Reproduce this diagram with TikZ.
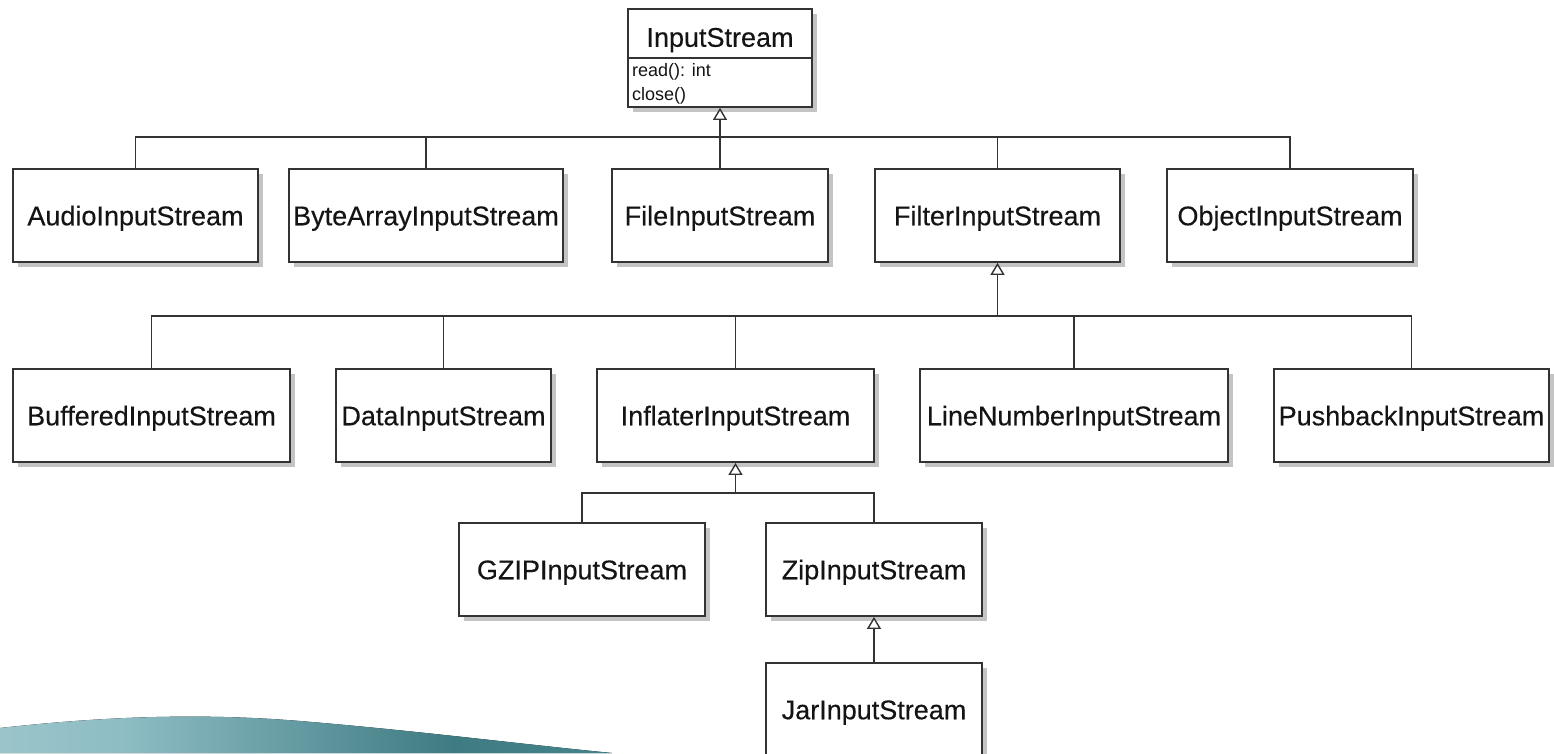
\documentclass[tikz,border=0pt]{standalone}
\usepackage{fontspec}
\newfontfamily\umlfont[FakeBold=0.3]{Liberation Sans}
\newfontfamily\umlsmall{Liberation Sans}
\usetikzlibrary{arrows.meta,shadows}
\definecolor{linec}{HTML}{333333}
\definecolor{shadowc}{HTML}{C4C4C4}
\definecolor{txtc}{HTML}{141414}
\definecolor{tealA}{HTML}{B8D6DB}
\definecolor{tealB}{HTML}{8EBDC4}
\definecolor{tealC}{HTML}{3F7B82}
\definecolor{tealD}{HTML}{4F979F}
\pgfdeclarehorizontalshading{swoosh}{100bp}{color(0bp)=(tealA); color(35bp)=(tealB); color(62bp)=(tealC); color(100bp)=(tealD)}
\tikzset{
  cls/.style={draw=linec, line width=1.8pt, fill=white, inner sep=0pt,
    minimum height=93pt, text height=19.5pt, text depth=0pt,
    font=\umlfont\fontsize{27}{32}\selectfont, text=txtc,
    drop shadow={shadow xshift=5pt, shadow yshift=-5pt, fill=shadowc, opacity=1}},
  conn/.style={draw=linec, line width=1.8pt},
  inh/.style={conn, -{Triangle[length=12pt,width=14pt,fill=white,line width=1.4pt]}},
  meth/.style={inner sep=0pt, anchor=west, font=\umlsmall\fontsize{18}{21}\selectfont, text=txtc}
}
\begin{document}
\begin{tikzpicture}[x=1pt,y=-1pt]
\useasboundingbox (0,0) rectangle (1554,753);
% swoosh
\fill[shading=swoosh] (0,753) -- (0,728) .. controls (90,718) and (190,712) .. (300,721) .. controls (420,731) and (520,744) .. (612,753) -- cycle;

% InputStream
\node[cls, minimum width=184pt, minimum height=98pt] (is) at (720,58) {};
\node[inner sep=0pt, text height=19.5pt, text depth=0pt, font=\umlfont\fontsize{27}{32}\selectfont, text=txtc] (ist) at (720,37) {InputStream};
\draw[draw=linec, line width=1.5pt] (is.west |- 0,58) -- (is.east |- 0,58);
\node[meth] (m1) at (632,72) {read(): int};
\node[meth] (m2) at (632,96) {close()};

% row 1
\node[cls, minimum width=245pt] (audio) at (135.5,215.5) {AudioInputStream};
\node[cls, minimum width=274pt] (byte) at (426,215.5) {ByteArrayInputStream};
\node[cls, minimum width=216pt] (file) at (720,215.5) {FileInputStream};
\node[cls, minimum width=245pt] (filter) at (997.5,215.5) {FilterInputStream};
\node[cls, minimum width=246pt] (object) at (1290,215.5) {ObjectInputStream};

% row 2
\node[cls, minimum width=277pt] (buffered) at (151.5,415.5) {BufferedInputStream};
\node[cls, minimum width=215pt] (data) at (443.5,415.5) {DataInputStream};
\node[cls, minimum width=277pt] (inflater) at (735.5,415.5) {InflaterInputStream};
\node[cls, minimum width=308pt] (linenum) at (1074,415.5) {LineNumberInputStream};
\node[cls, minimum width=275pt] (pushback) at (1411.5,415.5) {PushbackInputStream};

% row 3
\node[cls, minimum width=246pt] (gzip) at (582,569.5) {GZIPInputStream};
\node[cls, minimum width=216pt] (zip) at (874,569.5) {ZipInputStream};
\node[cls, minimum width=216pt] (jar) at (874,709.5) {JarInputStream};

% connectors level 1
\coordinate (b1) at (720,137);
\draw[inh] (file.north) -- (is.south);
\draw[conn] (audio.north) |- (b1);
\draw[conn] (byte.north) |- (b1);
\draw[conn] (filter.north) |- (b1);
\draw[conn] (object.north) |- (b1);

% connectors level 2
\coordinate (b2) at (997.5,316);
\draw[inh] (b2) -- (filter.south);
\draw[conn] (buffered.north) |- (b2);
\draw[conn] (data.north) |- (b2);
\draw[conn] (inflater.north) |- (b2);
\draw[conn] (linenum.north) |- (b2);
\draw[conn] (pushback.north) |- (b2);

% connectors level 3
\coordinate (b3) at (735.5,493);
\draw[inh] (b3) -- (inflater.south);
\draw[conn] (gzip.north) |- (b3);
\draw[conn] (zip.north) |- (b3);

% level 4
\draw[inh] (jar.north) -- (zip.south);
\end{tikzpicture}
\end{document}
